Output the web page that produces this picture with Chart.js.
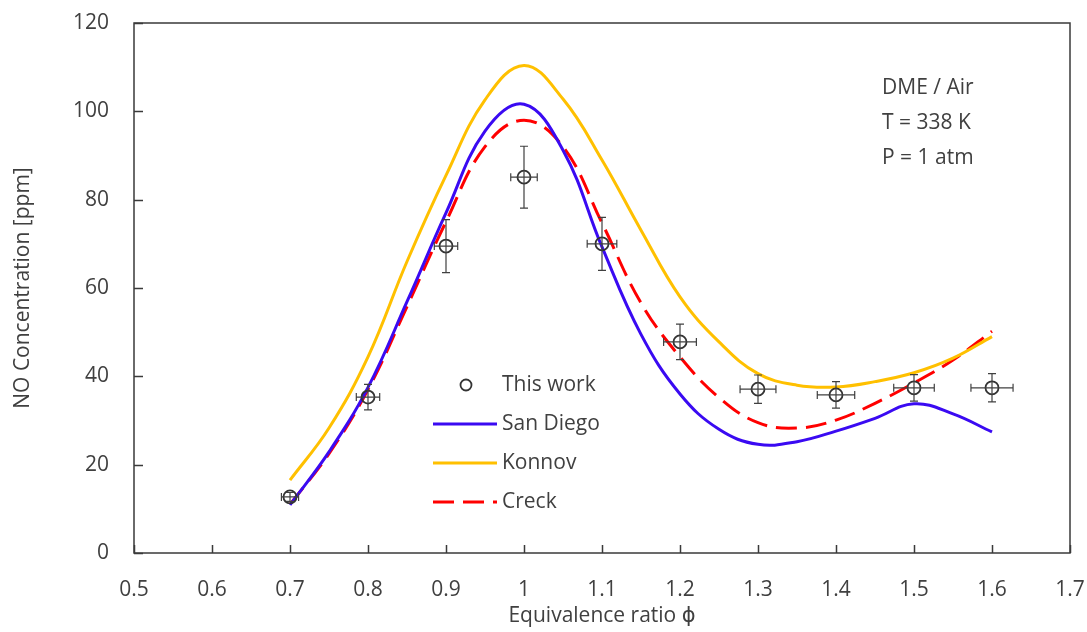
<!DOCTYPE html>
<html>
<head>
<meta charset="utf-8">
<script src="https://cdn.jsdelivr.net/npm/chart.js@4/dist/chart.umd.min.js"></script>
<style>
  html, body { margin: 0; padding: 0; background: #fff; }
  #wrap { width: 1087px; height: 632px; position: relative; }
</style>
</head>
<body>
<div id="wrap"><canvas id="chart"></canvas></div>
<script>
// model curves
const phiModel = [0.70, 0.75, 0.80, 0.85, 0.90, 0.95, 1.00, 1.05, 1.10, 1.15, 1.20, 1.25, 1.30, 1.35, 1.40, 1.45, 1.50, 1.55, 1.60];
const sanDiego = [10.9, 22.9, 37.5, 56.9, 77.0, 95.5, 101.6, 91.2, 69.3, 49.5, 36.0, 28.0, 24.6, 25.2, 27.6, 30.5, 33.8, 31.5, 27.4];
const konnov   = [16.5, 28.3, 44.4, 66.0, 85.5, 102.6, 110.4, 102.8, 89.0, 73.1, 58.0, 47.8, 40.6, 38.0, 37.6, 38.8, 40.8, 44.1, 49.0];
const creck    = [11.0, 22.5, 37.0, 55.8, 75.0, 92.0, 98.0, 92.0, 74.7, 56.6, 44.4, 35.2, 29.5, 28.3, 30.1, 33.9, 38.5, 43.7, 50.2];

// measurements (this work) with error bars
const phiExp = [0.7, 0.8, 0.9, 1.0, 1.1, 1.2, 1.3, 1.4, 1.5, 1.6];
const noExp  = [12.7, 35.3, 69.5, 85.1, 70.0, 47.8, 37.1, 35.8, 37.4, 37.4];
const noErr  = [1.0, 2.9, 6.0, 7.0, 6.0, 4.0, 3.2, 3.0, 3.0, 3.2];
const phiErr = [0.011, 0.015, 0.015, 0.017, 0.019, 0.021, 0.023, 0.024, 0.026, 0.027];

const seriesNames = ['This work', 'San Diego', 'Konnov', 'Creck'];
const infoLines = ['DME / Air', 'T = 338 K', 'P = 1 atm'];

const FONT = "'Open Sans', 'DejaVu Sans', sans-serif";
const TEXT = '#404040';
const AXIS = '#3a3a3a';

const toXY = (xs, ys) => xs.map((x, i) => ({ x, y: ys[i] }));

function lineSet(label, data, color, dash) {
  return {
    label,
    data: toXY(phiModel, data),
    showLine: true,
    borderColor: color,
    backgroundColor: color,
    borderWidth: 3,
    borderDash: dash || [],
    pointRadius: 0,
    tension: 0.4,
    fill: false
  };
}

// frame + inward tick marks
const frame = {
  id: 'frame',
  afterDatasetsDraw(chart) {
    const { ctx, chartArea: a, scales: { x, y } } = chart;
    ctx.save();
    ctx.strokeStyle = AXIS;
    ctx.lineWidth = 1.5;
    ctx.strokeRect(a.left, a.top, a.right - a.left, a.bottom - a.top);
    ctx.beginPath();
    x.ticks.forEach(t => {
      const px = Math.round(x.getPixelForValue(t.value)) + 0.5;
      ctx.moveTo(px, a.bottom);
      ctx.lineTo(px, a.bottom - 8);
    });
    y.ticks.forEach(t => {
      const py = Math.round(y.getPixelForValue(t.value)) + 0.5;
      ctx.moveTo(a.left, py);
      ctx.lineTo(a.left + 9, py);
    });
    ctx.stroke();
    ctx.restore();
  }
};

// error bars for the measured points
const errorBars = {
  id: 'errorBars',
  afterDatasetsDraw(chart) {
    const { ctx, scales: { x, y } } = chart;
    ctx.save();
    ctx.strokeStyle = '#404040';
    ctx.lineWidth = 1.2;
    ctx.beginPath();
    phiExp.forEach((p, i) => {
      const px = x.getPixelForValue(p);
      const py = y.getPixelForValue(noExp[i]);
      const yt = y.getPixelForValue(noExp[i] + noErr[i]);
      const yb = y.getPixelForValue(noExp[i] - noErr[i]);
      const xl = x.getPixelForValue(p - phiErr[i]);
      const xr = x.getPixelForValue(p + phiErr[i]);
      ctx.moveTo(px, yt); ctx.lineTo(px, yb);
      ctx.moveTo(px - 4, yt); ctx.lineTo(px + 4, yt);
      ctx.moveTo(px - 4, yb); ctx.lineTo(px + 4, yb);
      ctx.moveTo(xl, py); ctx.lineTo(xr, py);
      ctx.moveTo(xl, py - 4); ctx.lineTo(xl, py + 4);
      ctx.moveTo(xr, py - 4); ctx.lineTo(xr, py + 4);
    });
    ctx.stroke();
    ctx.restore();
  }
};

// legend inside the plot + condition text
const notes = {
  id: 'notes',
  afterDraw(chart) {
    const { ctx } = chart;
    ctx.save();
    ctx.font = '21px ' + FONT;
    ctx.fillStyle = TEXT;
    ctx.textBaseline = 'middle';
    const lx = 433, tx = 502, ly = 385, step = 39;
    chart.data.datasets.forEach((ds, i) => {
      const yy = ly + i * step;
      if (i === 0) {
        ctx.beginPath();
        ctx.strokeStyle = ds.borderColor;
        ctx.lineWidth = 1.8;
        ctx.arc(lx + 33, yy, 5.5, 0, Math.PI * 2);
        ctx.stroke();
      } else {
        ctx.beginPath();
        ctx.strokeStyle = ds.borderColor;
        ctx.lineWidth = 3;
        ctx.setLineDash(ds.borderDash || []);
        ctx.moveTo(lx, yy);
        ctx.lineTo(lx + 64, yy);
        ctx.stroke();
        ctx.setLineDash([]);
      }
      ctx.fillText(seriesNames[i], tx, yy);
    });
    infoLines.forEach((s, i) => ctx.fillText(s, 882, 88 + i * 35));
    ctx.restore();
  }
};

new Chart(document.getElementById('chart'), {
  type: 'scatter',
  data: {
    datasets: [
      {
        label: seriesNames[0],
        data: toXY(phiExp, noExp),
        borderColor: '#333333',
        backgroundColor: 'rgba(0,0,0,0)',
        borderWidth: 1.8,
        pointRadius: 6.5,
        pointStyle: 'circle',
        showLine: false
      },
      lineSet(seriesNames[1], sanDiego, '#3A0AF2'),
      lineSet(seriesNames[2], konnov, '#FFC000'),
      lineSet(seriesNames[3], creck, '#FF0000', [21, 9])
    ]
  },
  options: {
    responsive: true,
    maintainAspectRatio: false,
    animation: false,
    layout: { padding: { top: 23, right: 17, left: 0, bottom: 0 } },
    plugins: {
      legend: { display: false },
      tooltip: { enabled: false }
    },
    scales: {
      x: {
        type: 'linear',
        min: 0.5,
        max: 1.7,
        afterFit: s => { s.height = 79; s.paddingLeft = 0; s.paddingRight = 0; },
        grid: { display: false, drawTicks: false },
        border: { display: false },
        ticks: {
          stepSize: 0.1,
          padding: 24,
          color: TEXT,
          font: { family: FONT, size: 21 },
          callback: v => String(Number(v.toFixed(1)))
        },
        title: {
          display: true,
          text: 'Equivalence ratio ϕ',
          color: TEXT,
          font: { family: FONT, size: 21 },
          padding: { top: 0, bottom: 3 }
        }
      },
      y: {
        min: 0,
        max: 120,
        afterFit: s => { s.width = 134; s.paddingTop = 0; s.paddingBottom = 0; },
        grid: { display: false, drawTicks: false },
        border: { display: false },
        ticks: {
          stepSize: 20,
          padding: 25,
          color: TEXT,
          font: { family: FONT, size: 21 }
        },
        title: {
          display: true,
          text: 'NO Concentration [ppm]',
          color: TEXT,
          font: { family: FONT, size: 21 },
          padding: { top: 10, bottom: 0 }
        }
      }
    }
  },
  plugins: [frame, errorBars, notes]
});
</script>
</body>
</html>
